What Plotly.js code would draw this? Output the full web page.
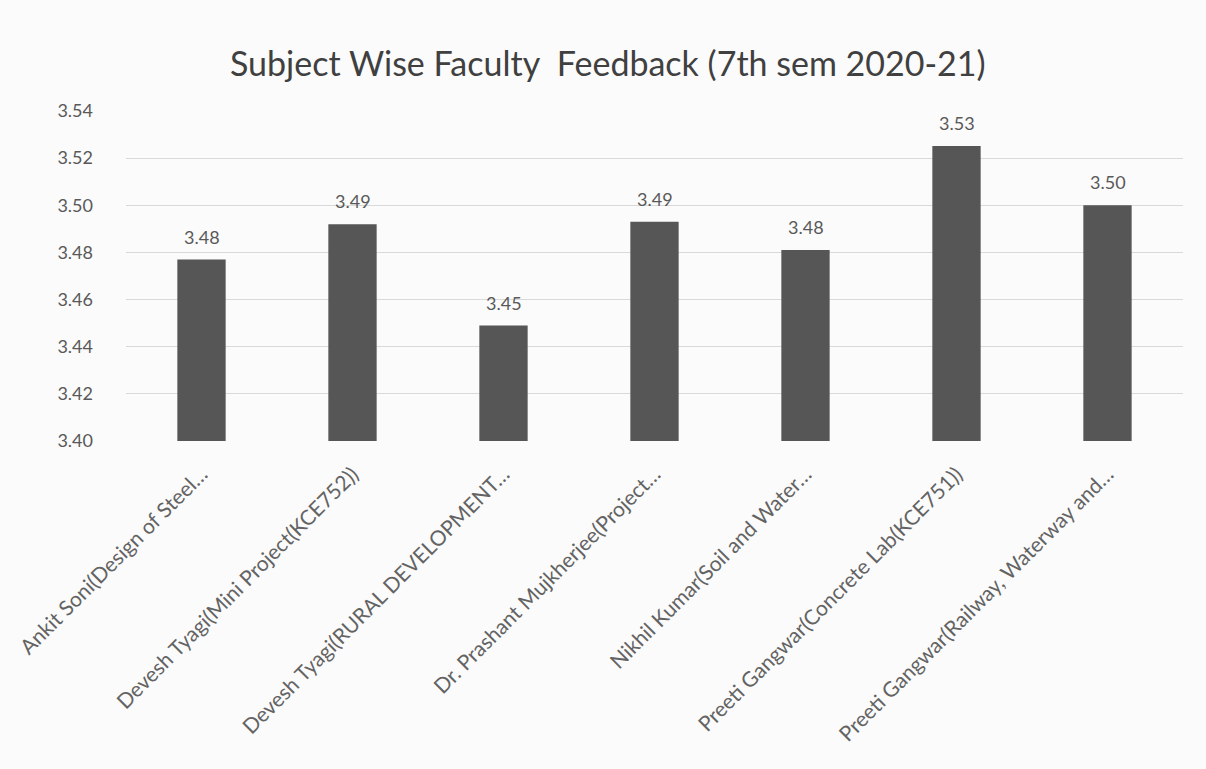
<!DOCTYPE html>
<html>
<head>
<meta charset="utf-8">
<script src="https://cdn.plot.ly/plotly-3.0.1.min.js"></script>
<style>
html,body{margin:0;padding:0;background:#fbfbfb;}
#chart{width:1206px;height:769px;}
</style>
</head>
<body>
<div id="chart"></div>
<script>
const categories = [
  "Ankit Soni(Design of Steel…",
  "Devesh Tyagi(Mini Project(KCE752))",
  "Devesh Tyagi(RURAL DEVELOPMENT…",
  "Dr. Prashant Mujkherjee(Project…",
  "Nikhil Kumar(Soil and Water…",
  "Preeti Gangwar(Concrete Lab(KCE751))",
  "Preeti Gangwar(Railway, Waterway and…"
];
const scores = [3.477, 3.492, 3.449, 3.493, 3.481, 3.5252, 3.500];
const yTicks = [3.40, 3.42, 3.44, 3.46, 3.48, 3.50, 3.52, 3.54];
const chartTitle = "Subject Wise Faculty&nbsp; Feedback (7th sem 2020-21)";

const FONT = "Lato, 'Open Sans', sans-serif";

const trace = {
  type: "bar",
  x: categories,
  y: scores,
  marker: {color: "#565656"},
  hoverinfo: "x+y"
};

const valueLabels = categories.map((c, i) => ({
  x: c,
  y: scores[i],
  xref: "x",
  yref: "y",
  text: scores[i].toFixed(2),
  showarrow: false,
  yanchor: "bottom",
  yshift: 10,
  font: {family: FONT, size: 18, color: "#595959"}
}));

const layout = {
  width: 1206,
  height: 769,
  paper_bgcolor: "#fbfbfb",
  plot_bgcolor: "#fbfbfb",
  margin: {l: 126, r: 23, t: 111, b: 328},
  bargap: 0.68,
  showlegend: false,
  title: {
    text: chartTitle,
    font: {family: FONT, size: 34, color: "#404040"},
    x: 0.504, xanchor: "center",
    y: 0.917, yanchor: "middle"
  },
  xaxis: {
    type: "category",
    tickangle: -45,
    tickfont: {family: FONT, size: 21, color: "#636363"},
    showgrid: false,
    showline: false,
    ticks: "",
    ticklabelstandoff: 16,
    automargin: false
  },
  yaxis: {
    range: [3.40, 3.54],
    tickvals: yTicks,
    ticktext: yTicks.map(v => v.toFixed(2)),
    tickfont: {family: FONT, size: 18, color: "#595959"},
    gridcolor: "#d9d9d9",
    gridwidth: 1,
    zeroline: false,
    showline: false,
    ticks: "",
    ticklabelstandoff: 32,
    automargin: false
  },
  annotations: valueLabels
};

Plotly.newPlot("chart", [trace], layout, {displayModeBar: false, staticPlot: true});
</script>
</body>
</html>
